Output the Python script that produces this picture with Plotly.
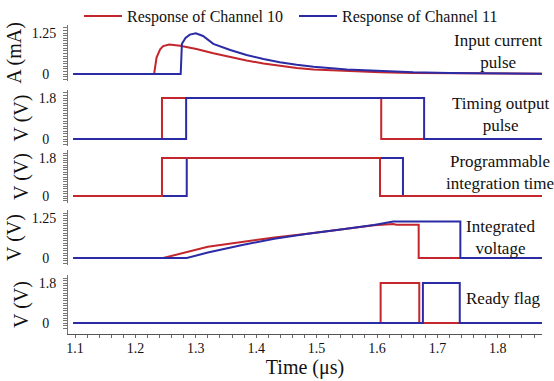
import plotly.graph_objects as go

# ---------------- data ----------------
# Input current pulse (mA)
cur10_t = [1.097, 1.231, 1.235, 1.241, 1.246, 1.256, 1.274, 1.301, 1.329, 1.357, 1.384, 1.412, 1.439, 1.467, 1.495, 1.550, 1.605, 1.660, 1.720, 1.800, 1.873]
cur10_v = [0.0, 0.0, 0.50, 0.75, 0.85, 0.90, 0.86, 0.76, 0.63, 0.51, 0.41, 0.32, 0.24, 0.18, 0.14, 0.09, 0.05, 0.03, 0.02, 0.01, 0.01]
cur11_t = [1.097, 1.275, 1.277, 1.283, 1.290, 1.300, 1.312, 1.329, 1.357, 1.384, 1.412, 1.439, 1.467, 1.495, 1.550, 1.605, 1.660, 1.720, 1.800, 1.873]
cur11_v = [0.0, 0.0, 0.92, 1.10, 1.20, 1.24, 1.16, 0.92, 0.73, 0.58, 0.46, 0.36, 0.28, 0.22, 0.14, 0.09, 0.05, 0.03, 0.01, 0.01]

# Timing output pulse (V)
tim10_t = [1.097, 1.244, 1.607, 1.873]
tim10_v = [0.0, 1.8, 0.0, 0.0]
tim11_t = [1.097, 1.284, 1.678, 1.873]
tim11_v = [0.0, 1.8, 0.0, 0.0]

# Programmable integration time (V)
prg10_t = [1.097, 1.244, 1.605, 1.873]
prg10_v = [0.0, 1.8, 0.0, 0.0]
prg11_t = [1.097, 1.285, 1.643, 1.873]
prg11_v = [0.0, 1.8, 0.0, 0.0]

# Integrated voltage (V)
int10_t = [1.097, 1.246, 1.320, 1.375, 1.430, 1.485, 1.540, 1.595, 1.627, 1.632, 1.669, 1.669, 1.873]
int10_v = [0.0, 0.0, 0.35, 0.50, 0.64, 0.76, 0.89, 1.02, 1.06, 1.04, 1.04, 0.0, 0.0]
int11_t = [1.097, 1.285, 1.320, 1.375, 1.430, 1.485, 1.540, 1.595, 1.627, 1.738, 1.738, 1.873]
int11_v = [0.0, 0.0, 0.17, 0.40, 0.60, 0.76, 0.89, 1.03, 1.14, 1.14, 0.0, 0.0]

# Ready flag (V)
rdy10_t = [1.097, 1.606, 1.670, 1.873]
rdy10_v = [0.0, 1.8, 0.0, 0.0]
rdy11_t = [1.097, 1.676, 1.737, 1.873]
rdy11_v = [0.0, 1.8, 0.0, 0.0]

x_tick_labels = ["1.1", "1.2", "1.3", "1.4", "1.5", "1.6", "1.7", "1.8"]
series_names = ["Response of Channel 10", "Response of Channel 11"]
panel_titles = ["A (mA)", "V (V)", "V (V)", "V (V)", "V (V)"]
panel_tops = [1.25, 1.8, 1.8, 1.25, 1.8]
panel_top_labels = ["1.25", "1.8", "1.8", "1.25", "1.8"]
panel_notes = ["Input current<br>pulse", "Timing output<br>pulse",
               "Programmable<br>integration time", "Integrated<br>voltage", "Ready flag"]

# ---------------- style / layout ----------------
RED = "#c3262c"
BLUE = "#2b2ba6"
W, H = 554, 381
ML, MR, MT, MB = 68, 12, 22, 47
PW, PH = W - ML - MR, H - MT - MB
FONT = "Liberation Serif"
X_PX0, X_PPU = 75, 604.0   # pixel of t=1.1 and pixels per unit

tick_px = [(33, 74), (98, 139), (158, 196), (218, 258), (283, 323)]
pad_top = [8, 8, 8, 8, 8]
pad_bot = [7, 7, 7, 7, 11]
Y_SUBDIV = 16   # ruler-like small ticks per panel
X_SUBDIV = 5    # small ticks per 0.1 step

def py2paper(py):
    return 1 - (py - MT) / PH

def px2paper(px):
    return (px - ML) / PW

fig = go.Figure()

panels = [
    (cur10_t, cur10_v, cur11_t, cur11_v, "blue_top", "linear"),
    (tim10_t, tim10_v, tim11_t, tim11_v, "blue_top", "hv"),
    (prg10_t, prg10_v, prg11_t, prg11_v, "red_top", "hv"),
    (int10_t, int10_v, int11_t, int11_v, "blue_top", "linear"),
    (rdy10_t, rdy10_v, rdy11_t, rdy11_v, "blue_top", "hv"),
]

for i, (rt, rv, bt, bv, order, shape) in enumerate(panels):
    yname = "y" if i == 0 else f"y{i+1}"
    red = go.Scatter(x=rt, y=rv, mode="lines", line=dict(color=RED, width=2, shape=shape),
                     name=series_names[0], showlegend=(i == 0), xaxis="x", yaxis=yname,
                     legend="legend", hoverinfo="skip")
    blue = go.Scatter(x=bt, y=bv, mode="lines", line=dict(color=BLUE, width=2, shape=shape),
                      name=series_names[1], showlegend=(i == 0), xaxis="x", yaxis=yname,
                      legend="legend2", hoverinfo="skip")
    if order == "blue_top":
        fig.add_trace(red); fig.add_trace(blue)
    else:
        fig.add_trace(blue); fig.add_trace(red)

leg_common = dict(orientation="h", yanchor="middle", xanchor="left", itemwidth=38,
                  font=dict(family=FONT, size=16, color="#111"),
                  bgcolor="rgba(0,0,0,0)", borderwidth=0)

layout = dict(
    template="none",
    width=W, height=H,
    margin=dict(l=ML, r=MR, t=MT, b=MB, autoexpand=False),
    paper_bgcolor="white", plot_bgcolor="white",
    font=dict(family=FONT, color="#111", size=14),
    showlegend=True,
    legend=dict(x=px2paper(79), y=py2paper(16), **leg_common),
    legend2=dict(x=px2paper(294), y=py2paper(16), **leg_common),
)

x_left = 1.1 - (X_PX0 - ML) / X_PPU
x_right = 1.1 + (ML + PW - X_PX0) / X_PPU

# ruler ticks on the time axis: labels only on every 0.1
x_vals, x_text = [], []
k = 0
while True:
    v = round(1.1 + k * 0.1 / X_SUBDIV, 4)
    if v > x_right:
        break
    x_vals.append(v)
    x_text.append(x_tick_labels[k // X_SUBDIV] if (k % X_SUBDIV == 0 and k // X_SUBDIV < len(x_tick_labels)) else "")
    k += 1

layout["xaxis"] = dict(range=[x_left, x_right], anchor="y5", tickmode="array",
                       tickvals=x_vals, ticktext=x_text, automargin=False,
                       showline=True, linecolor="#555", linewidth=1,
                       ticks="outside", ticklen=3, tickcolor="#666", tickwidth=1, ticklabelstandoff=-2,
                       showgrid=False, zeroline=False,
                       tickfont=dict(family=FONT, size=14, color="#111"),
                       title=dict(text="Time (μs)", font=dict(family=FONT, size=20, color="#111"), standoff=0))

for i in range(5):
    top_px, zero_px = tick_px[i]
    top = panel_tops[i]
    ppu = (zero_px - top_px) / top
    d_top = top_px - pad_top[i]
    d_bot = zero_px + pad_bot[i]
    rng = [-pad_bot[i] / ppu, top + pad_top[i] / ppu]
    step = top / Y_SUBDIV
    yvals = [round(j * step, 5) for j in range(-2, Y_SUBDIV + 3) if -pad_bot[i] / ppu <= j * step <= top + pad_top[i] / ppu]
    ytext = ["0\u2007" if abs(v) < 1e-9 else (panel_top_labels[i] if abs(v - top) < 1e-9 else "") for v in yvals]
    key = "yaxis" if i == 0 else f"yaxis{i+1}"
    layout[key] = dict(
        domain=[py2paper(d_bot), py2paper(d_top)], range=rng, anchor="x", automargin=False,
        tickmode="array", tickvals=yvals, ticktext=ytext,
        showline=True, linecolor="#777", linewidth=1,
        ticks="outside", ticklen=4, tickcolor="#777", tickwidth=1, ticklabelstandoff=4,
        showgrid=False, zeroline=False,
        tickfont=dict(family=FONT, size=14, color="#111"),
        title=dict(text=panel_titles[i], font=dict(family=FONT, size=20, color="#111"), standoff=4),
    )

fig.update_layout(**layout)

note_pos = [(498, 51), (500, 114), (500, 172), (500, 237), (503, 298)]
for txt, (px, py) in zip(panel_notes, note_pos):
    fig.add_annotation(text=txt, xref="paper", yref="paper", x=px2paper(px), y=py2paper(py),
                       showarrow=False, xanchor="center", yanchor="middle",
                       font=dict(family=FONT, size=17, color="#111"), align="center")

fig.write_html("out.html", config={"displayModeBar": False},
               post_script="document.body.style.margin='0';")
